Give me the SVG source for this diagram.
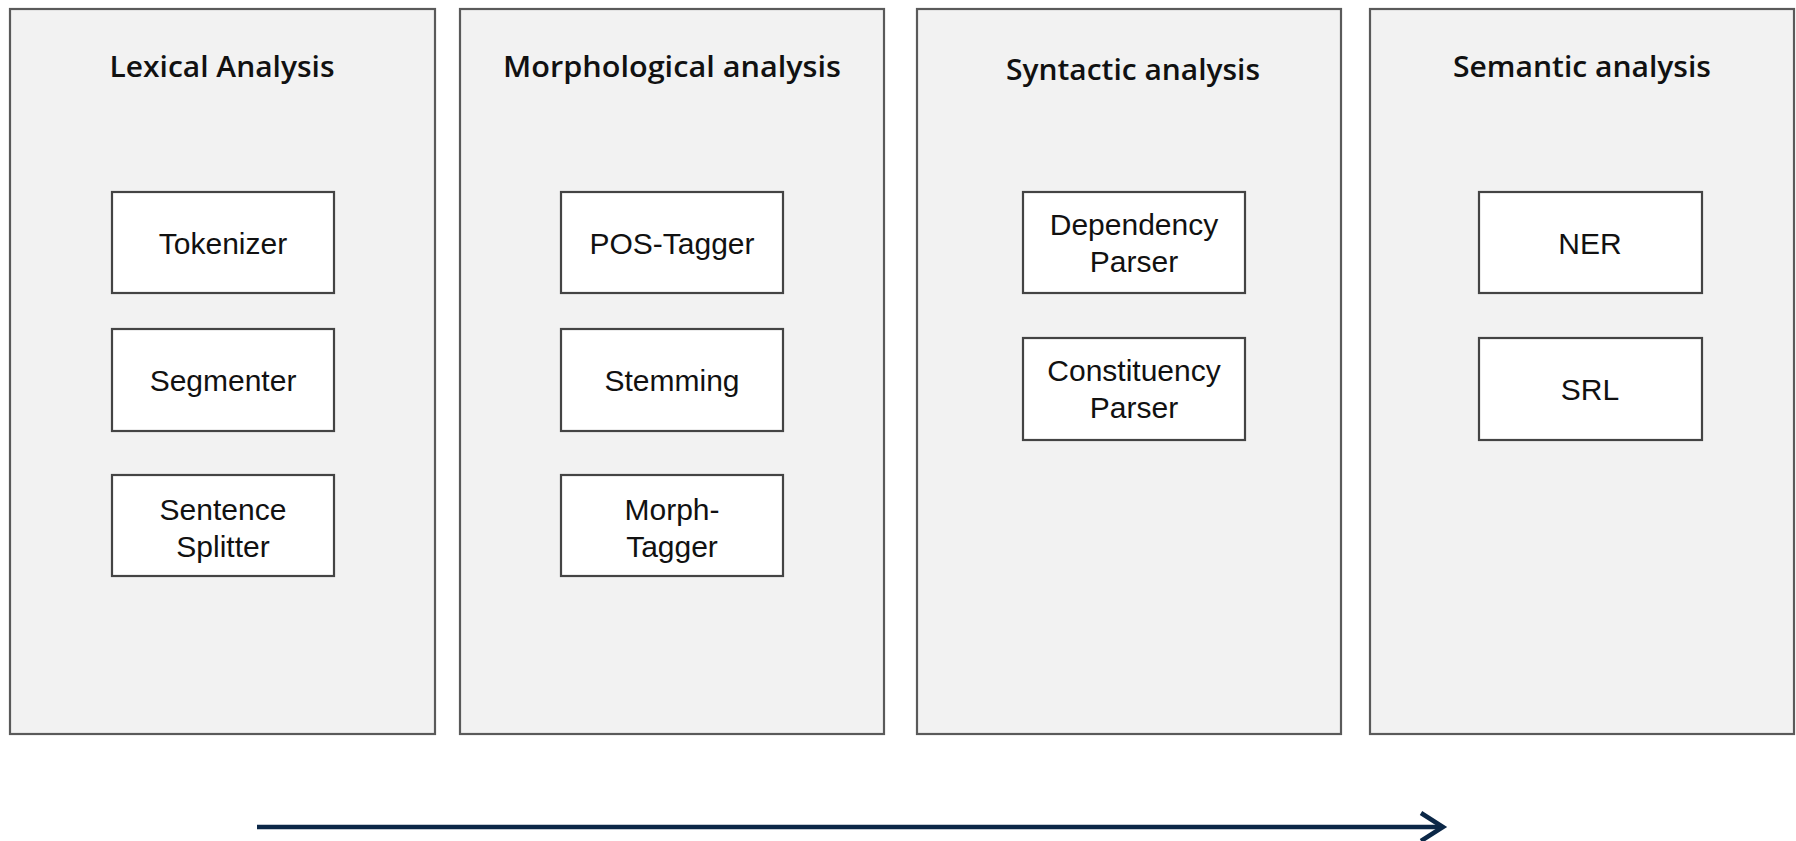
<svg xmlns="http://www.w3.org/2000/svg" width="1796" height="841" viewBox="0 0 1796 841">
<defs>
<style>
.panel{fill:#f2f2f2;stroke:#5a5a5a;stroke-width:2.2}
.box{fill:#ffffff;stroke:#444;stroke-width:2.2}
.title{font-family:"Open Sans","Noto Sans",sans-serif;font-weight:600;font-size:29px;fill:#111;text-anchor:middle}
.lbl{font-family:"Liberation Sans",Arial,sans-serif;font-size:30px;fill:#111;text-anchor:middle}
.flow{stroke:#0b2747;stroke-width:4.5;fill:none}
</style>
</defs>
<rect width="1796" height="841" fill="#ffffff"/>
<g id="lexical">
<rect class="panel" x="10" y="9" width="425" height="725"/>
<text class="title" x="222" y="77" textLength="225" lengthAdjust="spacingAndGlyphs">Lexical Analysis</text>
</g>
<g id="tokenizer"><rect class="box" x="112" y="192" width="222" height="101"/><text class="lbl" x="223" y="254">Tokenizer</text></g>
<g id="segmenter"><rect class="box" x="112" y="329" width="222" height="102"/><text class="lbl" x="223" y="391">Segmenter</text></g>
<g id="sentence-splitter"><rect class="box" x="112" y="475" width="222" height="101"/><text class="lbl" x="223" y="520">Sentence</text><text class="lbl" x="223" y="557">Splitter</text></g>
<g id="morphological">
<rect class="panel" x="460" y="9" width="424" height="725"/>
<text class="title" x="672" y="77" textLength="338" lengthAdjust="spacingAndGlyphs">Morphological analysis</text>
</g>
<g id="pos-tagger"><rect class="box" x="561" y="192" width="222" height="101"/><text class="lbl" x="672" y="254">POS-Tagger</text></g>
<g id="stemming"><rect class="box" x="561" y="329" width="222" height="102"/><text class="lbl" x="672" y="391">Stemming</text></g>
<g id="morph-tagger"><rect class="box" x="561" y="475" width="222" height="101"/><text class="lbl" x="672" y="520">Morph-</text><text class="lbl" x="672" y="557">Tagger</text></g>
<g id="syntactic">
<rect class="panel" x="917" y="9" width="424" height="725"/>
<text class="title" x="1133" y="80" textLength="254" lengthAdjust="spacingAndGlyphs">Syntactic analysis</text>
</g>
<g id="dependency-parser"><rect class="box" x="1023" y="192" width="222" height="101"/><text class="lbl" x="1134" y="235">Dependency</text><text class="lbl" x="1134" y="272">Parser</text></g>
<g id="constituency-parser"><rect class="box" x="1023" y="338" width="222" height="102"/><text class="lbl" x="1134" y="381">Constituency</text><text class="lbl" x="1134" y="418">Parser</text></g>
<g id="semantic">
<rect class="panel" x="1370" y="9" width="424" height="725"/>
<text class="title" x="1582" y="77" textLength="258" lengthAdjust="spacingAndGlyphs">Semantic analysis</text>
</g>
<g id="ner"><rect class="box" x="1479" y="192" width="223" height="101"/><text class="lbl" x="1590" y="254">NER</text></g>
<g id="srl"><rect class="box" x="1479" y="338" width="223" height="102"/><text class="lbl" x="1590" y="400">SRL</text></g>
<g id="connectors">
<line class="flow" x1="257" y1="827" x2="1441" y2="827"/>
<polyline class="flow" points="1421,813 1443,827 1421,841" stroke-width="6"/>
</g>
</svg>
